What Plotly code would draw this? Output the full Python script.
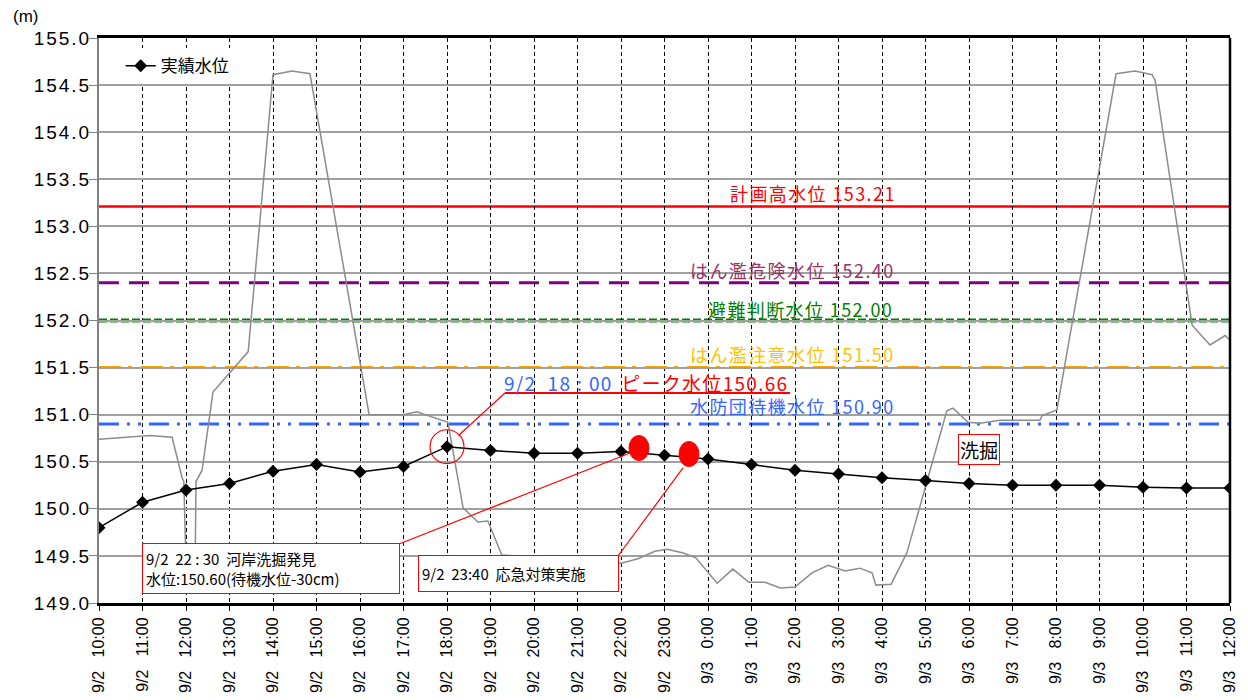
import plotly.graph_objects as go

# ---------------- data ----------------
time_labels = ["9/2 10:00", "9/2 11:00", "9/2 12:00", "9/2 13:00", "9/2 14:00", "9/2 15:00",
               "9/2 16:00", "9/2 17:00", "9/2 18:00", "9/2 19:00", "9/2 20:00", "9/2 21:00",
               "9/2 22:00", "9/2 23:00", "9/3 0:00", "9/3 1:00", "9/3 2:00", "9/3 3:00",
               "9/3 4:00", "9/3 5:00", "9/3 6:00", "9/3 7:00", "9/3 8:00", "9/3 9:00",
               "9/3 10:00", "9/3 11:00", "9/3 12:00"]
hours = list(range(len(time_labels)))
water_level = [149.80, 150.07, 150.20, 150.27, 150.40, 150.47, 150.39, 150.45, 150.66,
               150.62, 150.59, 150.59, 150.61, 150.57, 150.53, 150.47, 150.41, 150.37,
               150.33, 150.30, 150.27, 150.25, 150.25, 150.25, 150.23, 150.22, 150.22]

# river cross-section profile (gray line), x in hours from 9/2 10:00
profile_x = [0.0, 1.17, 1.68, 1.91, 1.95, 2.0, 2.21, 2.23, 2.37, 2.62, 3.43, 4.0, 4.44, 4.85,
             6.21, 6.99, 7.31, 8.02, 8.37, 8.71, 8.94, 9.26, 11.98, 12.39, 12.78, 13.06,
             13.43, 13.72, 14.21, 14.57, 14.94, 15.31, 15.66, 16.0, 16.39, 16.76, 17.15,
             17.49, 17.77, 17.86, 18.21, 18.57, 19.49, 19.63, 19.98, 20.25, 20.71, 21.63,
             21.68, 22.02, 23.38, 23.82, 24.21, 24.28, 25.13, 25.54, 25.89, 26.0]
profile_y = [150.74, 150.78, 150.76, 150.33, 150.29, 149.40, 149.40, 150.29, 150.41, 151.24,
             151.67, 154.61, 154.65, 154.62, 151.00, 151.00, 151.03, 150.92, 150.01, 149.86,
             149.87, 149.51, 149.42, 149.47, 149.55, 149.57, 149.53, 149.48, 149.21, 149.36,
             149.22, 149.22, 149.16, 149.17, 149.32, 149.40, 149.34, 149.37, 149.32, 149.19,
             149.20, 149.53, 151.04, 151.07, 150.92, 150.91, 150.94, 150.94, 150.99, 151.05,
             154.62, 154.65, 154.61, 154.55, 151.95, 151.74, 151.84, 151.79]

threshold_names = ["計画高水位", "はん濫危険水位", "避難判断水位", "はん濫注意水位", "水防団待機水位"]
threshold_values = [153.21, 152.40, 152.00, 151.50, 150.90]
threshold_line_colors = ["#FF0000", "#800080", "#008000", "#FFA500", "#3366FF"]
threshold_text_colors = ["#FF0000", "#993366", "#008000", "#FFC000", "#3366FF"]
threshold_dashes = ["solid", "20px,10px", "8px,3px", "22px,7px,4px,9px", "20px,8px,3px,8px,3px,8px"]
threshold_widths = [2.5, 3, 4, 3, 3]
threshold_label_x = [16.39, 15.93, 16.11, 15.93, 15.93]
threshold_label_y = [153.354, 152.536, 152.122, 151.644, 151.09]

y_ticks = [149.0, 149.5, 150.0, 150.5, 151.0, 151.5, 152.0, 152.5, 153.0, 153.5, 154.0, 154.5, 155.0]

peak_time = 8
peak_value = 150.66
discovery_pos = (12.414, 150.646)
action_pos = (13.563, 150.582)

CJK = "Noto Sans CJK JP"
LAT = "Liberation Sans"
NB = "\u00a0"


def spaced(txt, px):
    return f"<span style='letter-spacing:{px}px'>{txt[:-1]}</span>{txt[-1]}"


tick_text = [lab.replace(" ", NB * 3) for lab in time_labels]
y_tick_text = [spaced(f"{v:.1f}", 2) for v in y_ticks]

fig = go.Figure()

fig.add_trace(go.Scatter(
    x=profile_x, y=profile_y, mode="lines",
    line=dict(color="#8C8C8C", width=1.5), showlegend=False, hoverinfo="skip"))

fig.add_trace(go.Scatter(
    x=hours, y=water_level, mode="lines+markers", name="実績水位",
    line=dict(color="black", width=1.5),
    marker=dict(symbol="diamond", size=10, color="black")))

shapes = []
annotations = []

# threshold lines and labels
for name, val, lc, tc, dash, w, lx, ly in zip(threshold_names, threshold_values,
                                             threshold_line_colors, threshold_text_colors,
                                             threshold_dashes, threshold_widths,
                                             threshold_label_x, threshold_label_y):
    shapes.append(dict(type="line", xref="paper", x0=0, x1=1, yref="y", y0=val, y1=val,
                       line=dict(color=lc, width=w, dash=dash), layer="between"))
    annotations.append(dict(x=lx, y=ly, xref="x", yref="y", showarrow=False,
                            text=spaced(f"{name} {val:.2f}", 1.4),
                            font=dict(family=CJK, size=18, color=tc),
                            xanchor="center", yanchor="middle"))

# right border
shapes.append(dict(type="line", xref="paper", yref="paper", x0=1, x1=1, y0=0, y1=1,
                   line=dict(color="black", width=2.5), layer="above"))

# peak circle
shapes.append(dict(type="circle", xref="x", yref="y",
                   x0=peak_time - 0.39, x1=peak_time + 0.39,
                   y0=peak_value - 0.18, y1=peak_value + 0.18,
                   line=dict(color="#FF0000", width=1.2), layer="above"))
# peak leader + underline
shapes.append(dict(type="line", xref="x", yref="y", x0=8.264, y0=150.779, x1=9.333, y1=151.23,
                   line=dict(color="#FF0000", width=1.2), layer="above"))
shapes.append(dict(type="line", xref="x", yref="y", x0=9.333, y0=151.23, x1=15.885, y1=151.23,
                   line=dict(color="#FF0000", width=2), layer="above"))

# red ellipses
for (ex, ey) in [discovery_pos, action_pos]:
    shapes.append(dict(type="circle", xref="x", yref="y", x0=ex - 0.23, x1=ex + 0.23,
                       y0=ey - 0.133, y1=ey + 0.133, fillcolor="#FF0000",
                       line=dict(color="#FF0000", width=1), layer="above"))

# leader lines from boxes
shapes.append(dict(type="line", xref="x", yref="y", x0=6.897, y0=149.627, x1=12.207, y1=150.593,
                   line=dict(color="#FF0000", width=1.2), layer="above"))
shapes.append(dict(type="line", xref="x", yref="y", x0=11.931, y0=149.499, x1=13.425, y1=150.434,
                   line=dict(color="#FF0000", width=1.2), layer="above"))

# peak text
annotations.append(dict(x=12.58, y=151.345, xref="x", yref="y", showarrow=False,
                        xanchor="center", yanchor="middle",
                        text=("<span style='color:#3366FF;letter-spacing:1.3px'>9/2" + NB * 2 + "18" + NB + ":" + NB + "00</span>" + NB * 2 +
                              "<span style='color:#FF0000;letter-spacing:1.3px'>ピーク水位150.66</span>"),
                        font=dict(family=CJK, size=19)))

# box 1
annotations.append(dict(x=3.954, y=149.367, xref="x", yref="y", showarrow=False,
                        xanchor="center", yanchor="middle", align="left", valign="middle",
                        width=250, height=43, borderpad=3,
                        text=("9/2" + NB * 2 + "22" + NB + ":" + NB + "30" + NB * 2 + "河岸洗掘発見<br>"
                              "水位:150.60(待機水位-30cm)"),
                        font=dict(family=CJK, size=15, color="black"),
                        bgcolor="white", bordercolor="#FF0000", borderwidth=1))
# box 2
annotations.append(dict(x=9.644, y=149.313, xref="x", yref="y", showarrow=False,
                        xanchor="center", yanchor="middle", align="left", valign="middle",
                        width=193, height=29, borderpad=3,
                        text="9/2" + NB * 2 + "23:40" + NB * 2 + "応急対策実施",
                        font=dict(family=CJK, size=15, color="black"),
                        bgcolor="white", bordercolor="#FF0000", borderwidth=1))
# 洗掘 label
annotations.append(dict(x=20.22, y=150.63, xref="x", yref="y", showarrow=False,
                        xanchor="center", yanchor="middle",
                        text="洗掘", font=dict(family=CJK, size=19, color="black"),
                        bgcolor="white", bordercolor="#FF0000", borderwidth=1, borderpad=1))
# unit
annotations.append(dict(x=-0.0775, y=1.038, xref="paper", yref="paper", showarrow=False,
                        xanchor="left", yanchor="middle", text="(m)",
                        font=dict(family=LAT, size=17, color="black")))

fig.update_layout(
    width=1240, height=692,
    margin=dict(l=91, r=18, t=30, b=97, autoexpand=False),
    paper_bgcolor="white", plot_bgcolor="white",
    shapes=shapes, annotations=annotations,
    legend=dict(x=0.0192, y=0.982, xanchor="left", yanchor="top", bgcolor="white",
                font=dict(family=CJK, size=17, color="black"), borderwidth=0,
                itemwidth=30, tracegroupgap=0),
    xaxis=dict(range=[0, 26], tickmode="array", tickvals=hours, ticktext=tick_text,
               tickangle=-90, tickfont=dict(family=LAT, size=16, color="black"),
               showgrid=True, gridcolor="black", gridwidth=1, griddash="4px,3px",
               showline=True, linecolor="black", linewidth=3, mirror=True,
               ticks="outside", ticklen=5, tickcolor="black", zeroline=False,
               automargin=False, fixedrange=True),
    yaxis=dict(range=[149, 155], tickmode="array", tickvals=y_ticks, ticktext=y_tick_text,
               tickfont=dict(family=LAT, size=19, color="black"),
               showgrid=True, gridcolor="#A0A0A0", gridwidth=2,
               showline=True, linecolor="#808080", linewidth=2,
               ticks="outside", ticklen=8, tickcolor="#808080", zeroline=False,
               ticklabelstandoff=-4,
               automargin=False, fixedrange=True),
)

fig.write_html("out.html")
